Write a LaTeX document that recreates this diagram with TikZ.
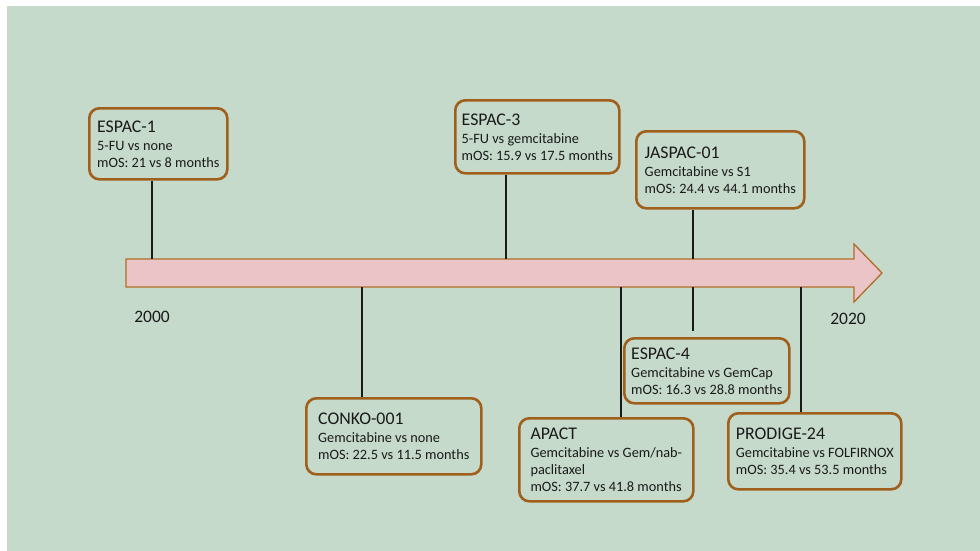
\documentclass[tikz,border=0pt]{standalone}
\usepackage{fontspec}
\setmainfont{Carlito}
\definecolor{bg}{RGB}{197,218,203}
\definecolor{boxc}{RGB}{160,96,28}
\definecolor{arrfill}{RGB}{235,196,200}
\definecolor{arrline}{RGB}{178,110,40}
\definecolor{txt}{RGB}{26,26,26}
\tikzset{
  trial/.style={draw=boxc, line width=2.6pt, rounded corners=10pt, fill=bg, align=left,
    anchor=north west, inner xsep=4pt, inner ysep=2pt, text=txt,
    font=\fontsize{14.3}{17}\selectfont},
  conn/.style={draw=txt, line width=1.5pt},
  year/.style={text=txt, font=\fontsize{17.5}{20}\selectfont},
}
\newcommand{\ttl}[1]{{\fontsize{17.8}{20}\selectfont #1}}
\begin{document}
\begin{tikzpicture}[x=1pt,y=-1pt]
\useasboundingbox (0,0) rectangle (980,551);
\fill[white] (0,0) rectangle (980,551);
\fill[bg] (7,6) rectangle (980,551);
% timeline arrow
\filldraw[fill=arrfill, draw=arrline, line width=1.3pt]
  (126,259) -- (854,259) -- (854,244) -- (882,273) -- (854,302) -- (854,287) -- (126,287) -- cycle;
% top connector ends
\coordinate (t1) at (152,259);
\coordinate (t3) at (506,259);
\coordinate (tj) at (693,259);
% bottom connector ends
\coordinate (bc) at (362,287);
\coordinate (ba) at (621,287);
\coordinate (b4) at (693,287);
\coordinate (bp) at (801,287);
% boxes
\node[trial, minimum width=138pt, minimum height=71pt] (e1) at (88,107)
  {\ttl{ESPAC-1}\\[1pt]5-FU vs none\\mOS: 21 vs 8 months};
\node[trial, minimum width=164pt, minimum height=73pt] (e3) at (454,99)
  {\ttl{ESPAC-3}\\[1pt]5-FU vs gemcitabine\\mOS: 15.9 vs 17.5 months};
\node[trial, minimum width=168pt, minimum height=77pt] (ja) at (635,130)
  {\ttl{JASPAC-01}\\[1pt]Gemcitabine vs S1\\mOS: 24.4 vs 44.1 months};
\node[trial, minimum width=175pt, minimum height=76pt] (co) at (305,397)
  {\ttl{CONKO-001}\\[1pt]Gemcitabine vs none\\mOS: 22.5 vs 11.5 months};
\node[trial, minimum width=174pt, minimum height=83pt] (ap) at (518,417)
  {\ttl{APACT}\\[1pt]Gemcitabine vs Gem/nab-\\paclitaxel\\mOS: 37.7 vs 41.8 months};
\node[trial, minimum width=165pt, minimum height=65pt] (e4) at (623,337)
  {\ttl{ESPAC-4}\\[1pt]Gemcitabine vs GemCap\\mOS: 16.3 vs 28.8 months};
\node[trial, minimum width=173pt, minimum height=76pt] (pr) at (727,412)
  {\ttl{PRODIGE-24}\\[1pt]Gemcitabine vs FOLFIRNOX\\mOS: 35.4 vs 53.5 months};
% connectors
\draw[conn] (e1.south -| t1) -- (t1);
\draw[conn] (e3.south -| t3) -- (t3);
\draw[conn] (ja.south -| tj) -- (tj);
\draw[conn] (bc) -- (co.north -| bc);
\draw[conn] (ba) -- (ap.north -| ba);
\draw[conn] (b4) -- ([yshift=6pt]e4.north -| b4);
\draw[conn] (bp) -- (pr.north -| bp);
% years
\node[year] (y2000) at (152,317) {2000};
\node[year] (y2020) at (848,319) {2020};
\end{tikzpicture}
\end{document}
